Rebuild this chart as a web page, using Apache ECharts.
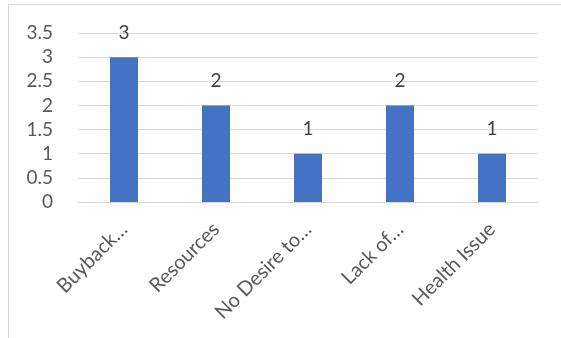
<!DOCTYPE html>
<html>
<head>
<meta charset="utf-8">
<script src="https://cdn.jsdelivr.net/npm/echarts@6/dist/echarts.min.js"></script>
<style>
  html, body { margin: 0; padding: 0; background: #fff; overflow: hidden; }
  #frame { position: absolute; left: 8px; top: 4px; width: 700px; height: 500px; border: 1px solid #d9d9d9; }
  #main { position: absolute; left: 0; top: 0; width: 561px; height: 338px; }
</style>
</head>
<body>
<div id="frame"></div>
<div id="main"></div>
<script>
  var categories = ['Buyback…', 'Resources', 'No Desire to…', 'Lack of…', 'Health Issue'];
  var values = [3, 2, 1, 2, 1];
  var yTicks = [0, 0.5, 1, 1.5, 2, 2.5, 3, 3.5];

  var chart = echarts.init(document.getElementById('main'));
  var font = 'Lato';

  var option = {
    animation: false,
    grid: { left: 78, right: 23, top: 33, bottom: 136 },
    xAxis: {
      type: 'category',
      data: categories,
      axisLine: { lineStyle: { color: '#d9d9d9', width: 1 } },
      axisTick: { show: false },
      axisLabel: {
        rotate: 45,
        margin: 24,
        color: '#595959',
        fontFamily: font,
        fontSize: 20
      }
    },
    yAxis: {
      type: 'value',
      min: yTicks[0],
      max: yTicks[yTicks.length - 1],
      interval: 0.5,
      splitLine: { lineStyle: { color: '#d9d9d9', width: 1 } },
      axisLine: { show: false },
      axisTick: { show: false },
      axisLabel: {
        margin: 25,
        color: '#595959',
        fontFamily: font,
        fontSize: 19
      }
    },
    series: [
      {
        type: 'bar',
        data: values,
        barWidth: 28,
        itemStyle: { color: '#4472c4' },
        label: {
          show: true,
          position: 'top',
          distance: 15,
          color: '#404040',
          fontFamily: font,
          fontSize: 19
        }
      }
    ]
  };

  chart.setOption(option);
</script>
</body>
</html>
